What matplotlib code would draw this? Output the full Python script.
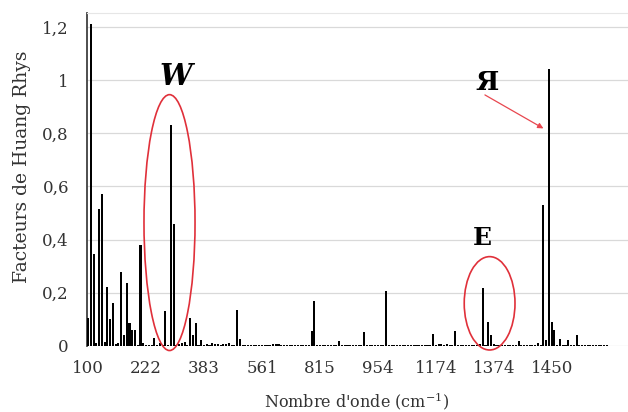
import matplotlib
matplotlib.use("Agg")
import matplotlib.pyplot as plt
from matplotlib.patches import Ellipse

# Huang-Rhys factors per mode (category axis, left to right)
values = [
    0.105, 1.21, 0.345, 0.01, 0.515, 0.57, 0.015, 0.22, 0.10, 0.16, 0.008,
    0.01, 0.28, 0.04, 0.235, 0.085, 0.06, 0.06, 0.005, 0.38, 0.012,
    # 21-41
    0.005, 0.005, 0.004, 0.03, 0.005, 0.012, 0.004, 0.13, 0.004, 0.83, 0.46,
    0.004, 0.006, 0.01, 0.016, 0.004, 0.106, 0.04, 0.087, 0.004, 0.022,
    # 42-62
    0.004, 0.008, 0.004, 0.012, 0.006, 0.006, 0.004, 0.006, 0.006, 0.011, 0.004,
    0.004, 0.134, 0.025, 0.004, 0.004, 0.004, 0.004, 0.004, 0.004, 0.004,
    # 63-83
    0.004, 0.004, 0.004, 0.004, 0.006, 0.006, 0.006, 0.004, 0.004, 0.004, 0.004,
    0.004, 0.004, 0.004, 0.004, 0.004, 0.004, 0.004, 0.056, 0.171, 0.004,
    # 84-104
    0.004, 0.004, 0.004, 0.004, 0.004, 0.004, 0.004, 0.0175, 0.004, 0.004, 0.004,
    0.004, 0.004, 0.004, 0.004, 0.004, 0.051, 0.004, 0.004, 0.004, 0.004,
    # 105-125
    0.004, 0.004, 0.004, 0.205, 0.004, 0.004, 0.004, 0.004, 0.004, 0.004, 0.004,
    0.004, 0.004, 0.004, 0.004, 0.004, 0.004, 0.004, 0.004, 0.004, 0.046,
    # 126-146
    0.004, 0.006, 0.006, 0.004, 0.006, 0.004, 0.004, 0.055, 0.004, 0.004, 0.004,
    0.004, 0.004, 0.004, 0.004, 0.004, 0.009, 0.2175, 0.004, 0.089, 0.0425,
    # 147-167
    0.009, 0.004, 0.004, 0.004, 0.004, 0.004, 0.004, 0.004, 0.004, 0.0175, 0.004,
    0.004, 0.004, 0.004, 0.004, 0.004, 0.011, 0.004, 0.53, 0.021, 1.04,
    # 168-188
    0.09, 0.059, 0.004, 0.0275, 0.004, 0.004, 0.021, 0.004, 0.004, 0.0425, 0.004,
    0.004, 0.004, 0.004, 0.004, 0.004, 0.004, 0.004, 0.004, 0.004, 0.004,
]
tick_labels = ["100", "222", "383", "561", "815", "954", "1174", "1374", "1450"]
label_step = 21
y_ticks = [0, 0.2, 0.4, 0.6, 0.8, 1.0, 1.2]
y_tick_labels = ["0", "0,2", "0,4", "0,6", "0,8", "1", "1,2"]

plt.rcParams['font.family'] = ['DejaVu Serif']
plt.rcParams['mathtext.fontset'] = 'dejavuserif'

fig = plt.figure(figsize=(6.28, 4.12), dpi=100)
ax = fig.add_axes([87/628, 66/412, 1 - 87/628, (346-13)/412])

x = list(range(len(values)))
ax.bar(x, values, width=0.75, color='black', zorder=3)

ax.set_xlim(-0.4, 195.65)
ax.set_ylim(0, 1.252)

ax.set_yticks(y_ticks)
ax.set_yticklabels(y_tick_labels)
ax.set_xticks([i * label_step for i in range(len(tick_labels))])
ax.set_xticklabels(tick_labels)
ax.tick_params(axis='both', length=0, labelsize=12, colors='#333333')
ax.tick_params(axis='y', pad=13)
ax.tick_params(axis='x', pad=10)

ax.grid(axis='y', color='#d9d9d9', linewidth=0.9, zorder=0)
ax.set_axisbelow(True)
for s in ['right', 'bottom']:
    ax.spines[s].set_visible(False)
ax.spines['top'].set_color('#e6e6e6')
ax.spines['left'].set_color('#404040')
ax.spines['left'].set_linewidth(1.3)

fig.text(22/628, 1 - 167/412, "Facteurs de Huang Rhys", rotation=90,
         ha='center', va='center', fontsize=13.5, color='#333333')
fig.text(357/628, 1 - 401/412, "Nombre d'onde (cm$^{-1}$)",
         ha='center', va='center', fontsize=11.5, color='#333333')

red = '#e0303a'
ax.add_patch(Ellipse((29.5, 0.464), 18.5, 0.962, fill=False, edgecolor=red,
                     linewidth=1.2, clip_on=False, zorder=4))
ax.add_patch(Ellipse((145.5, 0.1605), 18.4, 0.351, fill=False, edgecolor=red,
                     linewidth=1.2, clip_on=False, zorder=4))

ax.text(31.9, 1.015, "W", ha='center', va='center', fontsize=21,
        fontweight='bold', fontstyle='italic', color='black')
ax.text(142.9, 0.406, "E", ha='center', va='center', fontsize=18,
        fontweight='bold', color='black')
ax.text(144.5, 0.992, "\u042f", ha='center', va='center', fontsize=19,
        fontweight='bold', color='black')
ax.annotate("", xy=(165.0, 0.818), xytext=(143.8, 0.944),
            arrowprops=dict(arrowstyle='-|>', color='#e8474f', lw=0.9,
                            mutation_scale=8, shrinkA=0, shrinkB=0))

fig.savefig("out.png", dpi=100)
